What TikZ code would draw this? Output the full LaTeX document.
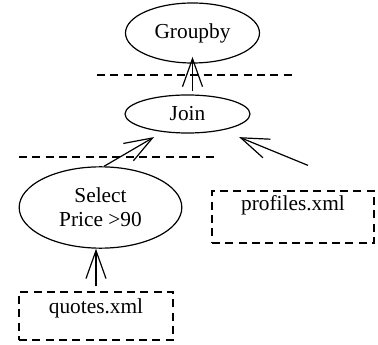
\documentclass[tikz,border=0pt]{standalone}
\usepackage{fontspec}
\setmainfont{Liberation Serif}
\usetikzlibrary{shapes.geometric,arrows.meta}

\tikzset{
  op/.style={draw,ellipse,line width=0.9pt,inner sep=0pt,align=center},
  src/.style={draw,rectangle,dash pattern=on 6pt off 4pt,line width=0.9pt,inner sep=0pt,text height=12pt},
  cut/.style={dash pattern=on 6pt off 4pt,line width=0.9pt},
  flow/.style={line width=0.9pt,-{Straight Barb[length=21pt,width=15pt,line width=0.9pt]}}
}

\begin{document}
\begin{tikzpicture}[x=0.75pt,y=0.75pt,yscale=-1,xscale=1,font=\fontsize{16}{18}\selectfont]
\useasboundingbox (0,0) rectangle (378,345);

% Operator nodes
\node [op,minimum width=100.5pt,minimum height=45pt] (groupby) at (192.5,33) {Groupby};
\node [op,minimum width=93.75pt,minimum height=28.5pt] (join) at (187.5,114) {Join};
\node [op,minimum width=122pt,minimum height=61pt] (select) at (100.5,207.5) {Select\\Price >90};

% Source documents
\node [src,minimum width=121.5pt,minimum height=39pt,text depth=21pt] (profiles) at (293,217) {profiles.xml};
\node [src,minimum width=115.5pt,minimum height=36pt,text depth=16.5pt] (quotes) at (96,316) {quotes.xml};
\coordinate (pin) at ([shift={(15,-25)}]profiles.north);

%Dashed Lines
\draw [cut] (97,75) -- (293,75);
\draw [cut] (19,157) -- (217,157);

%Arrows
\draw [flow,shorten <=3.75pt] (quotes.north) -- (quotes.north |- select.south);
\draw [flow,shorten >=7.5pt] (select.85) -- (join.216);
\draw [flow,shorten >=13.5pt] (pin) -- (join.335);
\draw [flow,shorten <=2.25pt,shorten >=-5pt] (groupby.south |- join.north) -- (groupby.south);

\end{tikzpicture}
\end{document}
